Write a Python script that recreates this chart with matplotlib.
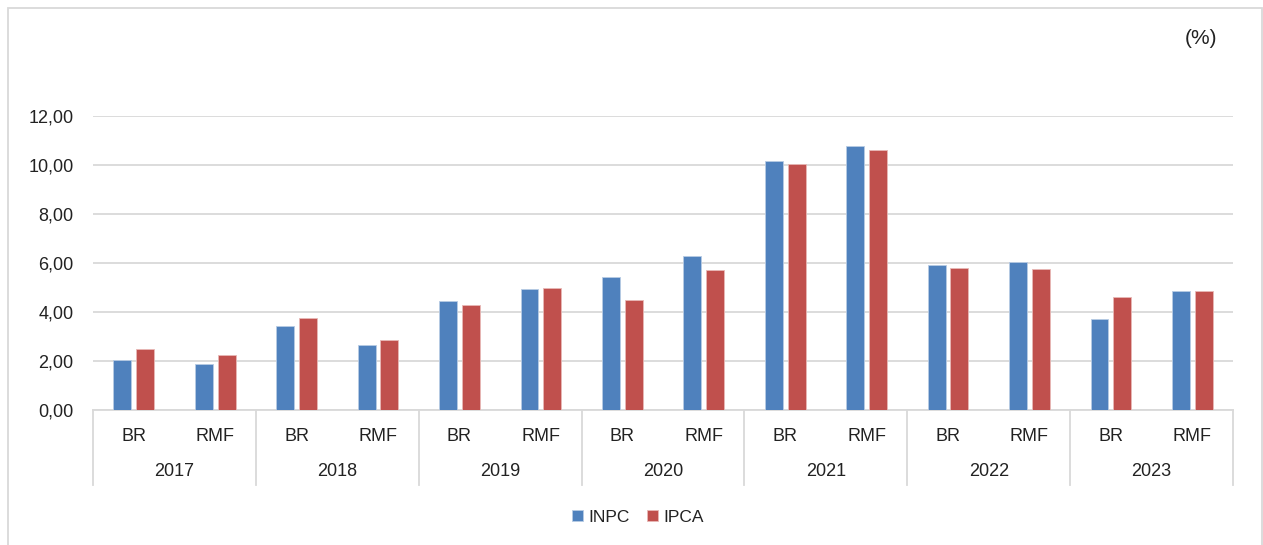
import matplotlib.pyplot as plt
import matplotlib.transforms as mtransforms
from matplotlib.patches import Rectangle
import numpy as np

plt.rcParams['font.family'] = ['Liberation Sans', 'DejaVu Sans']

# data
years = ['2017', '2018', '2019', '2020', '2021', '2022', '2023']
regions = ['BR', 'RMF']
inpc = [2.05, 1.88, 3.41, 2.67, 4.46, 4.93, 5.44, 6.30, 10.15, 10.78, 5.93, 6.04, 3.70, 4.84]
ipca = [2.48, 2.26, 3.74, 2.87, 4.30, 4.98, 4.50, 5.72, 10.06, 10.62, 5.78, 5.74, 4.61, 4.86]
yticks = [0, 2, 4, 6, 8, 10, 12]

BLUE = '#4F81BD'
RED = '#C0504D'
GRID = '#D9D9D9'
TXT = '#222222'
FS = 13

fig = plt.figure(figsize=(12.63, 5.45), dpi=100)
ax = fig.add_axes([93 / 1263, 1 - 410 / 545, 1140 / 1263, 294 / 545])

x = np.arange(len(inpc))
w = 0.22
ax.bar(x - 0.14, inpc, width=w, color=BLUE, edgecolor='#B7CBE4', linewidth=0.6, label='INPC', zorder=3)
ax.bar(x + 0.14, ipca, width=w, color=RED, edgecolor='#E8B8B6', linewidth=0.6, label='IPCA', zorder=3)

ax.set_xlim(-0.5, len(inpc) - 0.5)
ax.set_ylim(0, 12)
ax.set_yticks(yticks)
ax.set_yticklabels([f'{v:.2f}'.replace('.', ',') for v in yticks])
ax.yaxis.grid(True, color=GRID, linewidth=1.3, zorder=0)
ax.tick_params(axis='y', length=0, pad=14, labelsize=FS, labelcolor=TXT)

ax.set_xticks(x)
ax.set_xticklabels(regions * len(years))
ax.tick_params(axis='x', length=0, pad=13, labelsize=FS, labelcolor=TXT)

for s in ['top', 'right', 'left']:
    ax.spines[s].set_visible(False)
ax.spines['bottom'].set_color(GRID)
ax.spines['bottom'].set_linewidth(1.3)

# year separators and year labels under the category axis
trans = mtransforms.blended_transform_factory(ax.transData, ax.transAxes)
for i in range(len(years) + 1):
    xs = 2 * i - 0.5
    ax.plot([xs, xs], [0, -0.255], transform=trans, color=GRID, lw=1.3, clip_on=False)
for i, yr in enumerate(years):
    ax.text(2 * i + 0.5, -0.21, yr, transform=trans, ha='center', va='center',
            fontsize=FS, color=TXT)

# unit label
fig.text(1201 / 1263, 1 - 38 / 545, '(%)', ha='center', va='center', fontsize=15, color=TXT)

# legend
leg = fig.legend(loc='center', bbox_to_anchor=(638 / 1263, 1 - 517 / 545), ncol=2, frameon=False,
                 handlelength=0.65, handleheight=0.65, handletextpad=0.3, columnspacing=1.0,
                 fontsize=12.5)
for t in leg.get_texts():
    t.set_color(TXT)

# outer chart frame
fig.patches.append(Rectangle((8 / 1263, -0.01), 1254 / 1263, 1 - 8 / 545 + 0.01,
                             transform=fig.transFigure, fill=False, edgecolor=GRID, lw=1.3))

fig.savefig('out.png', dpi=100, facecolor='white')
